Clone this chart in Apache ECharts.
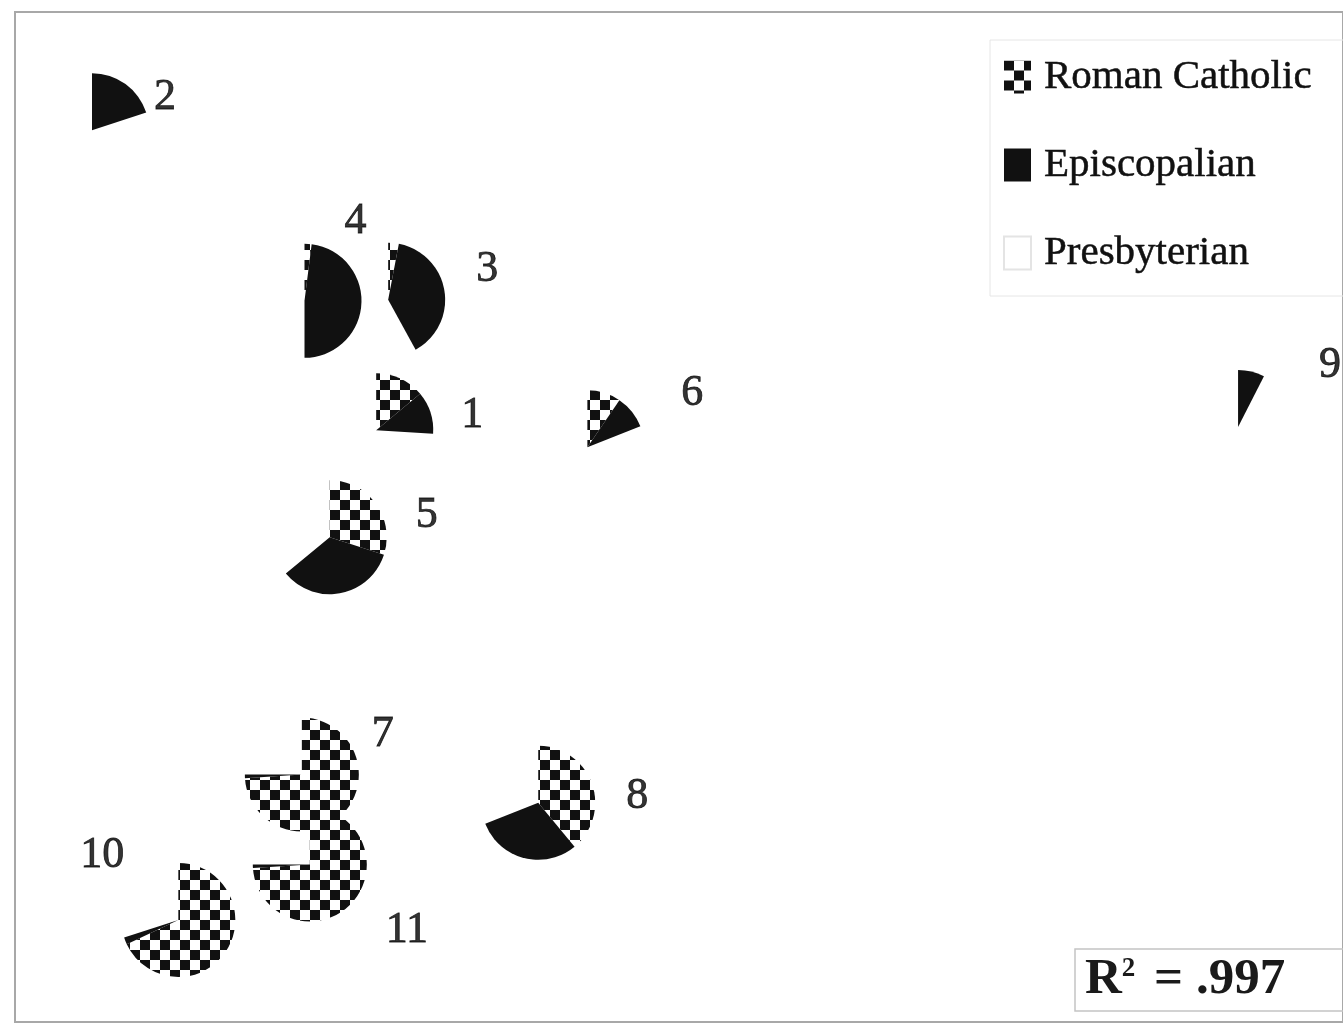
<!DOCTYPE html>
<html>
<head>
<meta charset="utf-8">
<script src="https://cdn.jsdelivr.net/npm/echarts@6/dist/echarts.min.js"></script>
<style>
  html, body { margin: 0; padding: 0; background: #fff; }
  #chart { width: 1343px; height: 1027px; }
</style>
</head>
<body>
<div id="chart"></div>
<script>
// groups (numbered glyphs) and their positions on the hidden axes (0-100)
const groups = ['1', '2', '3', '4', '5', '6', '7', '8', '9', '10', '11']
const xPos = [27.2, 5.8, 28.1, 21.8, 23.7, 43.1, 21.6, 39.4, 92.1, 12.3, 22.2]
const yPos = [58.6, 88.3, 71.5, 71.4, 48.0, 56.9, 24.5, 21.7, 58.9, 10.1, 15.6]

// share of each denomination, percent of the pie
const catholic = [14, 0, 3, 2, 30, 9.5, 74, 39, 0, 68, 74]
const episcopalian = [12, 20, 39, 48, 34, 9.5, 1, 30, 7.5, 2, 1]
const presbyterian = [74, 80, 58, 50, 36, 81, 25, 31, 92.5, 30, 25]

const R2 = '.997'

// label offsets from glyph centre (px)
const labelOffsets = [[96, -15], [73, -33], [99, -30], [51, -79], [97, -22], [105, -54],
  [81, -40], [99, -6], [92, -62], [-76, -65], [97, 66]]

const RADIUS = 57
const FONT = '"Liberation Serif", "DejaVu Serif", serif'

// checkered fill
const tile = document.createElement('canvas')
tile.width = 20
tile.height = 20
const ctx = tile.getContext('2d')
ctx.fillStyle = '#fff'
ctx.fillRect(0, 0, 20, 20)
ctx.fillStyle = '#111'
ctx.fillRect(0, 0, 10, 10)
ctx.fillRect(10, 10, 10, 10)
const checker = { image: tile, repeat: 'repeat' }

const shares = [catholic, episcopalian, presbyterian]
const names = ['Roman Catholic', 'Episcopalian', 'Presbyterian']
const fills = [checker, '#111', '#fff']

function sectorSeries (k) {
  const data = groups.map((g, i) => {
    let start = 0
    for (let j = 0; j < k; j++) start += shares[j][i]
    return { name: g, value: [xPos[i], yPos[i], start, shares[k][i]] }
  })
  return {
    name: names[k],
    type: 'custom',
    z: k === 2 ? 1 : 2,
    encode: { x: 0, y: 1 },
    itemStyle: { color: fills[k], borderColor: k === 2 ? '#e4e4e4' : 'transparent', borderWidth: 1 },
    renderItem: (params, api) => {
      const share = api.value(3)
      if (share <= 0) return null
      const c = api.coord([api.value(0), api.value(1)])
      const a0 = -Math.PI / 2 + api.value(2) / 100 * Math.PI * 2
      const a1 = a0 + share / 100 * Math.PI * 2
      return {
        type: 'sector',
        shape: { cx: c[0], cy: c[1], r0: 0, r: RADIUS, startAngle: a0, endAngle: a1, clockwise: true },
        style: { fill: fills[k] }
      }
    },
    data: data
  }
}

const chart = echarts.init(document.getElementById('chart'))
chart.setOption({
  animation: false,
  grid: { left: 15, right: -2, top: 12, bottom: 5, show: true, borderColor: '#a8a8a8', borderWidth: 2 },
  xAxis: { type: 'value', min: 0, max: 100, show: false },
  yAxis: { type: 'value', min: 0, max: 100, show: false },
  legend: {
    data: names,
    orient: 'vertical',
    left: 990,
    top: 40,
    padding: [16, 40, 22, 13],
    icon: 'rect',
    itemWidth: 27,
    itemHeight: 33,
    itemGap: 46,
    borderColor: '#e6e6e6',
    borderWidth: 1,
    selectedMode: false,
    textStyle: {
      fontFamily: FONT, fontSize: 41, lineHeight: 42, color: '#111',
      textBorderColor: '#111', textBorderWidth: 0.5, padding: [0, 0, 0, 8]
    }
  },
  title: {
    text: '{r|R}{s|2}{r| = ' + R2 + '}',
    left: 1075,
    top: 946,
    padding: [6, 80, 6, 10],
    borderColor: '#c4c4c4',
    borderWidth: 1.5,
    textStyle: {
      rich: {
        r: { fontFamily: FONT, fontSize: 51, fontWeight: 'bold', color: '#1a1a1a', lineHeight: 56 },
        s: { fontFamily: FONT, fontSize: 27, fontWeight: 'bold', color: '#1a1a1a', padding: [0, 6, 22, 0] }
      }
    }
  },
  series: [
    sectorSeries(2),
    sectorSeries(0),
    sectorSeries(1),
    {
      name: 'labels',
      type: 'scatter',
      symbolSize: 0,
      z: 3,
      silent: true,
      label: {
        show: true,
        position: 'inside',
        formatter: '{b}',
        fontFamily: FONT,
        fontSize: 44,
        color: '#000',
        textBorderColor: '#000',
        textBorderWidth: 0.8
      },
      data: groups.map((g, i) => ({ name: g, value: [xPos[i], yPos[i]], label: { offset: labelOffsets[i] } }))
    }
  ]
})
</script>
</body>
</html>
